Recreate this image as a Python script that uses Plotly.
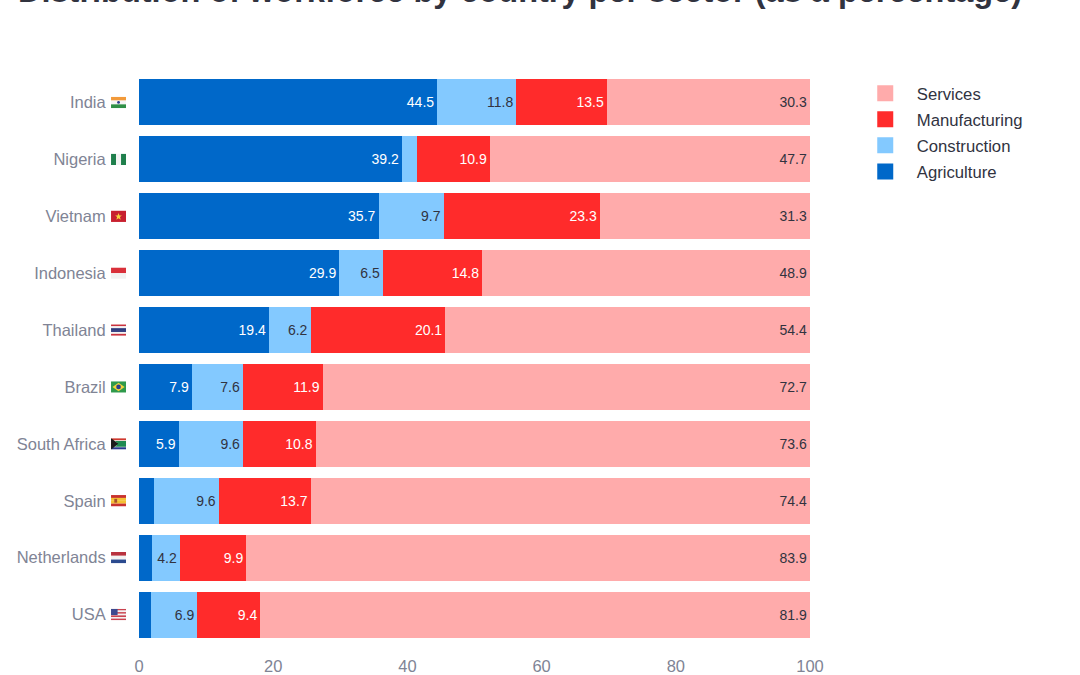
import base64
import plotly.graph_objects as go

countries = ["India", "Nigeria", "Vietnam", "Indonesia", "Thailand", "Brazil",
             "South Africa", "Spain", "Netherlands", "USA"]
agriculture = [44.5, 39.2, 35.7, 29.9, 19.4, 7.9, 5.9, 2.3, 1.9, 1.8]
construction = [11.8, 2.2, 9.7, 6.5, 6.2, 7.6, 9.6, 9.6, 4.2, 6.9]
manufacturing = [13.5, 10.9, 23.3, 14.8, 20.1, 11.9, 10.8, 13.7, 9.9, 9.4]
services = [30.3, 47.7, 31.3, 48.9, 54.4, 72.7, 73.6, 74.4, 83.9, 81.9]
x_ticks = [0, 20, 40, 60, 80, 100]
title_text = "Distribution of workforce by country per sector (as a percentage)"


def stripes_h(cols, extra=""):
    h = 12 / len(cols)
    r = "".join(f'<rect x="0" y="{i*h}" width="16" height="{h+0.05}" fill="{c}"/>' for i, c in enumerate(cols))
    return r + extra


def stripes_v(cols):
    w = 16 / len(cols)
    return "".join(f'<rect x="{i*w}" y="0" width="{w+0.05}" height="12" fill="{c}"/>' for i, c in enumerate(cols))


us_stars = '<rect width="7" height="6.5" fill="#3c4a8f"/>'
flags = {
    "India": stripes_h(["#f29a3a", "#f4f4f4", "#2f8f46"], '<circle cx="8" cy="6" r="1.5" fill="#2a3a8c"/>'),
    "Nigeria": stripes_v(["#1f7f4c", "#f4f4f4", "#1f7f4c"]),
    "Vietnam": '<rect width="16" height="12" fill="#c8202f"/><polygon points="8,2.5 9,5.2 11.6,5.2 9.5,6.9 10.3,9.6 8,8 5.7,9.6 6.5,6.9 4.4,5.2 7,5.2" fill="#f6d33c"/>',
    "Indonesia": stripes_h(["#d9303a", "#f2f2f2"]),
    "Thailand": stripes_h(["#c9323e", "#f2f2f2", "#2d3a7e", "#2d3a7e", "#f2f2f2", "#c9323e"]),
    "Brazil": '<rect width="16" height="12" fill="#2f9a4c"/><polygon points="8,1.5 14.5,6 8,10.5 1.5,6" fill="#f3d23a"/><circle cx="8" cy="6" r="2.5" fill="#2a3f8c"/>',
    "South Africa": stripes_h(["#d0392f", "#f2f2f2", "#1f8a52", "#f2f2f2", "#28398c"]) + '<polygon points="0,0 8,6 0,12" fill="#1b1b1b"/><polygon points="4,3 16,3 16,9 4,9 8,6" fill="#1f8a52"/>',
    "Spain": stripes_h(["#c8312d", "#f4c132", "#f4c132", "#c8312d"]) + '<rect x="3.5" y="4" width="3" height="4" fill="#a8502a"/>',
    "Netherlands": stripes_h(["#b8323e", "#f2f2f2", "#2b4a8f"]),
    "USA": stripes_h(["#c9434f", "#f2f2f2", "#c9434f", "#f2f2f2", "#c9434f", "#f2f2f2", "#c9434f"]) + us_stars,
}


def flag_uri(body):
    svg = f'<svg xmlns="http://www.w3.org/2000/svg" viewBox="0 0 16 12" width="160" height="120" preserveAspectRatio="none">{body}</svg>'
    return "data:image/svg+xml;base64," + base64.b64encode(svg.encode()).decode()


series = [
    ("Agriculture", agriculture, "#0068c9", "#ffffff"),
    ("Construction", construction, "#83c9ff", "#31333f"),
    ("Manufacturing", manufacturing, "#ff2b2b", "#ffffff"),
    ("Services", services, "#ffabab", "#31333f"),
]

fig = go.Figure()
for name, values, color, text_color in series:
    fig.add_trace(go.Bar(
        y=countries, x=values, name=name, orientation="h",
        marker=dict(color=color, line=dict(width=0)),
        text=[f"{v:.1f}" if v >= 3 else "" for v in values],
        textposition="inside", insidetextanchor="end", textangle=0,
        textfont=dict(color=text_color, size=14, family="Liberation Sans"),
        showlegend=False,
        hovertemplate="%{y}: %{text}<extra>" + name + "</extra>",
    ))
for name, values, color, text_color in reversed(series):
    fig.add_trace(go.Scatter(
        x=[None], y=[None], mode="markers", name=name, legendgroup=name,
        marker=dict(symbol="square", size=16, color=color, line=dict(width=0)),
    ))

images = [dict(source=flag_uri(flags[c]), xref="paper", yref="y", x=-0.0417, y=c,
               sizex=0.0224, sizey=0.2, xanchor="left", yanchor="middle",
               sizing="stretch", layer="above") for c in countries]

fig.update_layout(
    width=1080, height=675, autosize=False,
    barmode="stack", barnorm="percent", bargap=0.19,
    plot_bgcolor="white", paper_bgcolor="white",
    font=dict(family="Liberation Sans", size=16, color="#31333f"),
    margin=dict(l=139, r=270, t=73.5, b=31.5, autoexpand=False),
    title=dict(text=f"<b>{title_text}</b>", xref="container", yref="container",
               x=18 / 1080, xanchor="left", y=1 - 2 / 675, yanchor="bottom",
               font=dict(size=32.5, color="#31333f", family="Liberation Sans")),
    xaxis=dict(range=[0, 100.0001], tickvals=x_ticks, showgrid=False, zeroline=False, showline=False,
               ticks="outside", ticklen=8, tickcolor="rgba(0,0,0,0)",
               tickfont=dict(size=16.5, color="#808495")),
    yaxis=dict(categoryorder="array", categoryarray=countries[::-1], showgrid=False, zeroline=False,
               showline=False, ticks="outside", ticklen=29, tickcolor="rgba(0,0,0,0)",
               tickfont=dict(size=16.5, color="#808495")),
    legend=dict(x=1.0652, xanchor="left", y=0.9965, yanchor="top", itemwidth=53,
                tracegroupgap=1.3, traceorder="grouped",
                font=dict(size=16.7, color="#31333f"), bgcolor="rgba(0,0,0,0)"),
    images=images,
)

fig.write_html("out.html", config={"displayModeBar": False},
               post_script="document.body.style.margin='0';")
